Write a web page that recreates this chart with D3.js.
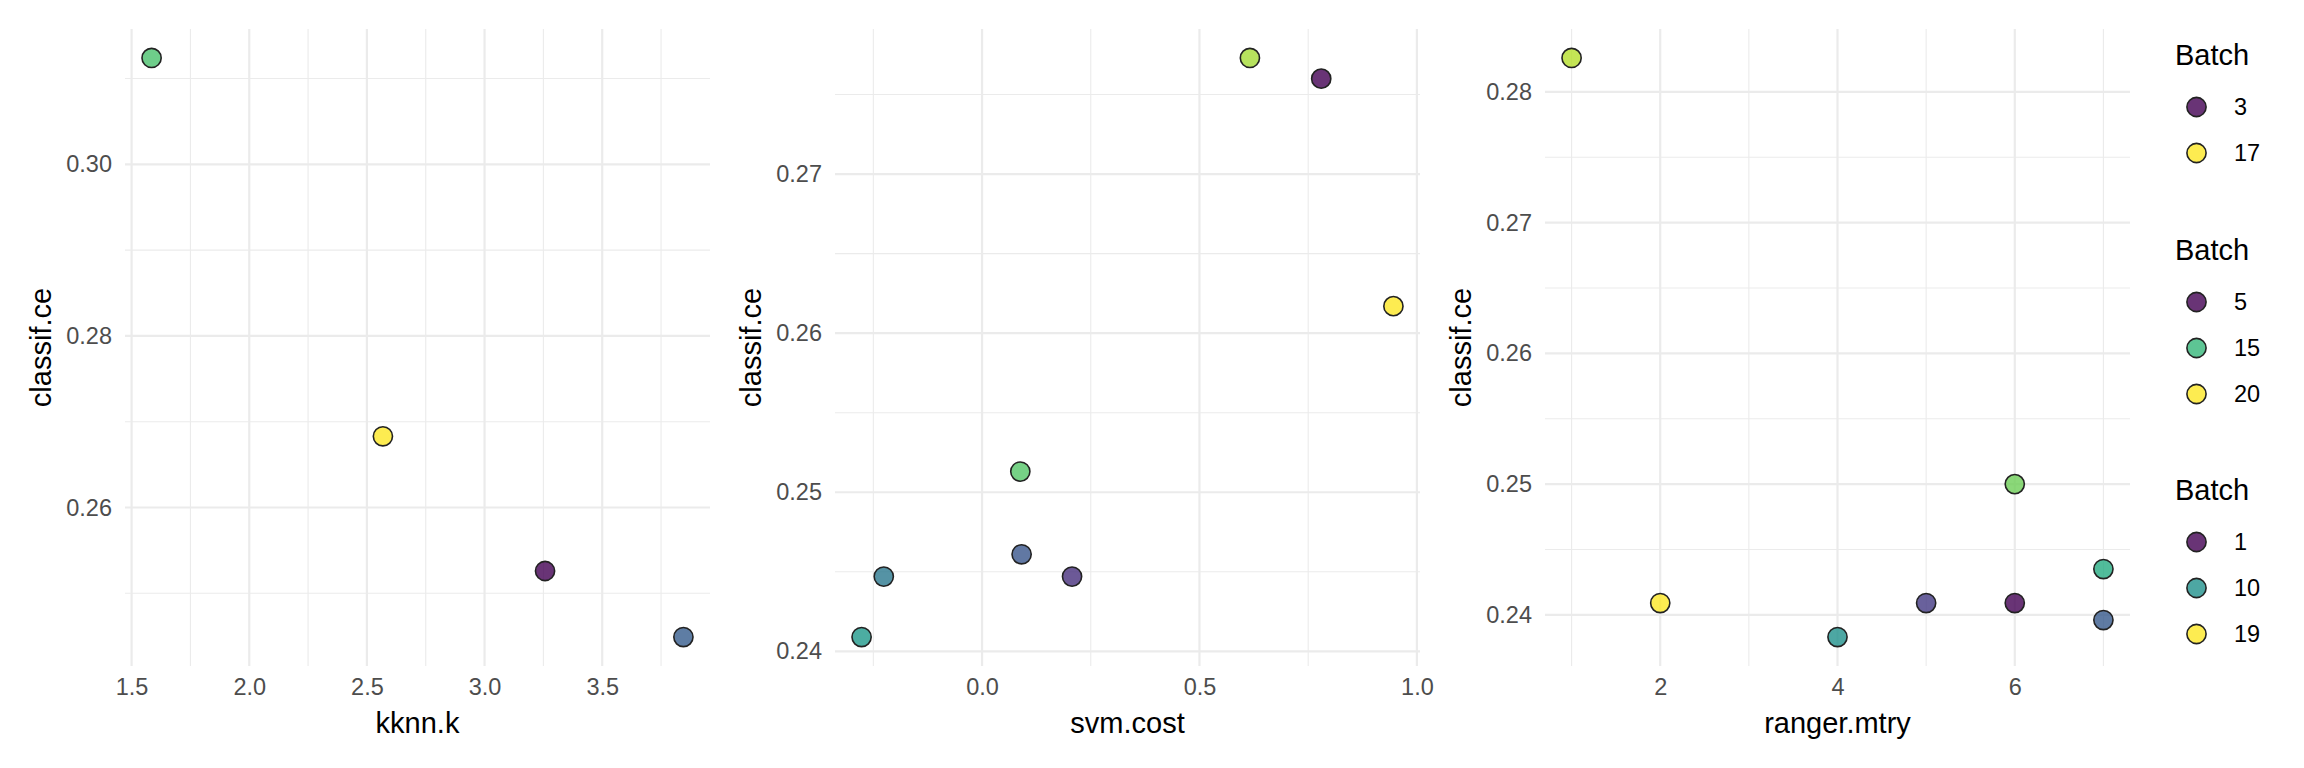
<!DOCTYPE html>
<html>
<head>
<meta charset="utf-8">
<script src="https://cdn.jsdelivr.net/npm/d3@7"></script>
<style>
  body { margin: 0; background: #fff; }
  svg { font-family: "Liberation Sans", Arial, sans-serif; }
</style>
</head>
<body>
<script>
// data
const kknnK = [1.585, 2.568, 3.257, 3.845];
const kknnCE = [0.3124, 0.2683, 0.2526, 0.2449];
const kknnBatch = [13, 17, 3, 7];

const svmCost = [0.616, 0.780, 0.946, 0.088, 0.091, 0.207, -0.226, -0.277];
const svmCE = [0.2773, 0.2760, 0.2617, 0.2513, 0.2461, 0.2447, 0.2447, 0.2409];
const svmBatch = [18, 5, 20, 16, 9, 7, 11, 13];

const rangerMtry = [1, 2, 4, 5, 6, 6, 7, 7];
const rangerCE = [0.2826, 0.2409, 0.2383, 0.2409, 0.2409, 0.2500, 0.2435, 0.2396];
const rangerBatch = [17, 19, 10, 4, 1, 15, 12, 6];

const legendBreaks = [[3, 17], [5, 15, 20], [1, 10, 19]];

const w = 2304, h = 768;
const plotTop = 29, plotBottom = 666;

const panels = [
  { x: kknnK, y: kknnCE, b: kknnBatch, name: "kknn.k", left: 125, right: 710,
    xMajor: [1.5, 2, 2.5, 3, 3.5], xMinor: [1.75, 2.25, 2.75, 3.25, 3.75], xFmt: d3.format(".1f"),
    yMajor: [0.26, 0.28, 0.30], yMinor: [0.25, 0.27, 0.29, 0.31] },
  { x: svmCost, y: svmCE, b: svmBatch, name: "svm.cost", left: 835, right: 1420,
    xMajor: [0, 0.5, 1], xMinor: [-0.25, 0.25, 0.75], xFmt: d3.format(".1f"),
    yMajor: [0.24, 0.25, 0.26, 0.27], yMinor: [0.245, 0.255, 0.265, 0.275] },
  { x: rangerMtry, y: rangerCE, b: rangerBatch, name: "ranger.mtry", left: 1545, right: 2130,
    xMajor: [2, 4, 6], xMinor: [1, 3, 5, 7], xFmt: d3.format("d"),
    yMajor: [0.24, 0.25, 0.26, 0.27, 0.28], yMinor: [0.235, 0.245, 0.255, 0.265, 0.275] }
];

function expand(arr) {
  const [lo, hi] = d3.extent(arr);
  const pad = (hi - lo) * 0.05;
  return [lo - pad, hi + pad];
}

const svg = d3.select("body").append("svg")
  .attr("width", w)
  .attr("height", h);

panels.forEach(p => {
  const xScale = d3.scaleLinear().domain(expand(p.x)).range([p.left, p.right]);
  const yScale = d3.scaleLinear().domain(expand(p.y)).range([plotBottom, plotTop]);
  const color = d3.scaleSequential(d3.interpolateViridis).domain(d3.extent(p.b));
  const g = svg.append("g");

  // minor grid
  g.selectAll(".xminor").data(p.xMinor.filter(v => xScale(v) >= p.left && xScale(v) <= p.right))
    .enter().append("line")
    .attr("x1", d => xScale(d)).attr("x2", d => xScale(d))
    .attr("y1", plotTop).attr("y2", plotBottom)
    .attr("stroke", "#ebebeb").attr("stroke-width", 1.1);
  g.selectAll(".yminor").data(p.yMinor.filter(v => yScale(v) >= plotTop && yScale(v) <= plotBottom))
    .enter().append("line")
    .attr("x1", p.left).attr("x2", p.right)
    .attr("y1", d => yScale(d)).attr("y2", d => yScale(d))
    .attr("stroke", "#ebebeb").attr("stroke-width", 1.1);
  // major grid
  g.selectAll(".xmajor").data(p.xMajor)
    .enter().append("line")
    .attr("x1", d => xScale(d)).attr("x2", d => xScale(d))
    .attr("y1", plotTop).attr("y2", plotBottom)
    .attr("stroke", "#ebebeb").attr("stroke-width", 2.2);
  g.selectAll(".ymajor").data(p.yMajor)
    .enter().append("line")
    .attr("x1", p.left).attr("x2", p.right)
    .attr("y1", d => yScale(d)).attr("y2", d => yScale(d))
    .attr("stroke", "#ebebeb").attr("stroke-width", 2.2);

  // axes (ticks only as text, like theme_minimal)
  const xAxis = d3.axisBottom(xScale).tickValues(p.xMajor).tickFormat(p.xFmt).tickSize(0).tickPadding(12);
  const yAxis = d3.axisLeft(yScale).tickValues(p.yMajor).tickFormat(d3.format(".2f")).tickSize(0).tickPadding(13);

  const gx = g.append("g").attr("transform", "translate(0," + plotBottom + ")").call(xAxis);
  const gy = g.append("g").attr("transform", "translate(" + p.left + ",0)").call(yAxis);
  [gx, gy].forEach(a => {
    a.select(".domain").remove();
    a.selectAll("text").attr("fill", "#4d4d4d").style("font-size", "23.5px")
      .style("font-family", "'Liberation Sans', Arial, sans-serif");
  });

  g.append("text")
    .attr("x", (p.left + p.right) / 2)
    .attr("y", 733)
    .attr("text-anchor", "middle")
    .style("font-size", "29px")
    .text(p.name);

  g.append("text")
    .attr("transform", "translate(" + (p.left - 74) + "," + ((plotTop + plotBottom) / 2) + ") rotate(-90)")
    .attr("text-anchor", "middle")
    .style("font-size", "29px")
    .text("classif.ce");

  g.selectAll("circle")
    .data(p.x.map((v, i) => ({ x: v, y: p.y[i], b: p.b[i] })))
    .enter()
    .append("circle")
    .attr("cx", d => xScale(d.x))
    .attr("cy", d => yScale(d.y))
    .attr("r", 9.6)
    .attr("fill", d => color(d.b))
    .attr("fill-opacity", 0.8)
    .attr("stroke", "#222")
    .attr("stroke-width", 1.6);

  p.color = color;
});

// legends
const legendTop = [55, 250, 490];
legendBreaks.forEach((breaks, k) => {
  const color = panels[k].color;
  const lg = svg.append("g").attr("transform", "translate(2175," + legendTop[k] + ")");
  lg.append("text")
    .attr("x", 0).attr("y", 10)
    .style("font-size", "29px")
    .text("Batch");
  lg.selectAll("circle").data(breaks).enter().append("circle")
    .attr("cx", 21.5)
    .attr("cy", (d, i) => 52 + i * 46)
    .attr("r", 9.6)
    .attr("fill", d => color(d))
    .attr("fill-opacity", 0.8)
    .attr("stroke", "#222")
    .attr("stroke-width", 1.6);
  lg.selectAll(".lab").data(breaks).enter().append("text")
    .attr("x", 59)
    .attr("y", (d, i) => 52 + i * 46)
    .attr("dy", "0.35em")
    .style("font-size", "23.5px")
    .text(d => d);
});
</script>
</body>
</html>
